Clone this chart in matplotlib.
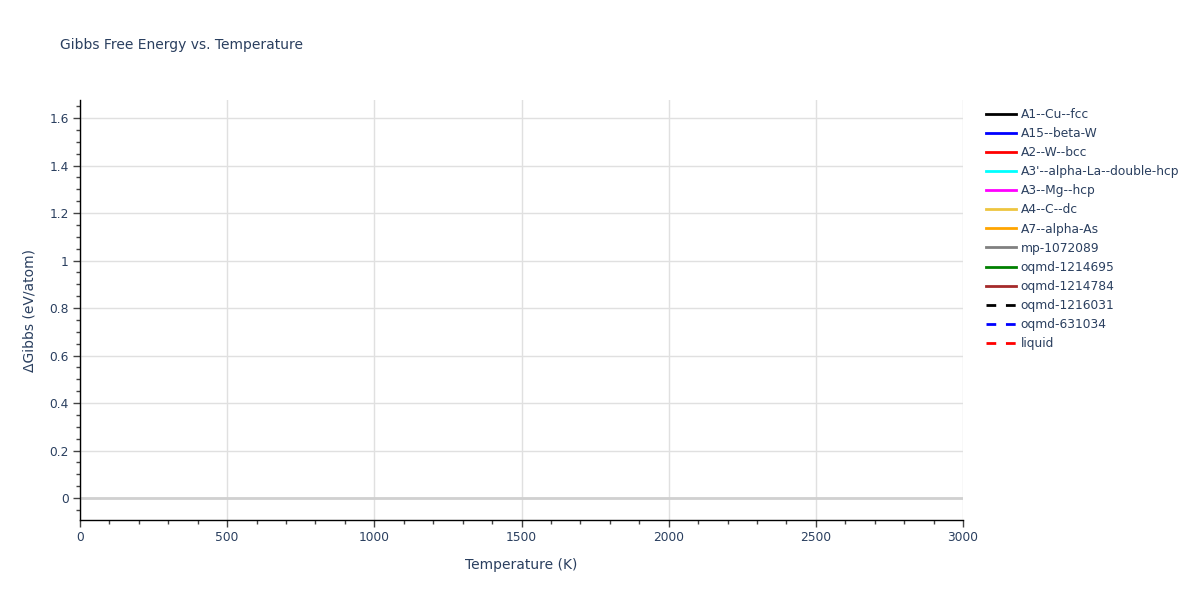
import matplotlib
matplotlib.use('Agg')
import matplotlib.pyplot as plt
from matplotlib.ticker import MultipleLocator

# phases in the legend; the reference shows no visible curves in range
phases = ['A1--Cu--fcc', 'A15--beta-W', 'A2--W--bcc', "A3'--alpha-La--double-hcp",
          'A3--Mg--hcp', 'A4--C--dc', 'A7--alpha-As', 'mp-1072089',
          'oqmd-1214695', 'oqmd-1214784', 'oqmd-1216031', 'oqmd-631034', 'liquid']
colors = ['black', 'blue', 'red', 'cyan', 'magenta', '#eec540', 'orange', 'grey',
          'green', 'brown', 'black', 'blue', 'red']
dashed = ['oqmd-1216031', 'oqmd-631034', 'liquid']

temps = {p: [] for p in phases}
gibbs = {p: [] for p in phases}

txt = '#2a3f5f'
plt.rcParams['font.family'] = ['DejaVu Sans']

fig = plt.figure(figsize=(12, 6), dpi=100)
ax = fig.add_axes([80/1200, 80/600, 883/1200, 420/600])

lines = []
for p, c in zip(phases, colors):
    ls = (0, (3.5, 3.5)) if p in dashed else '-'
    ln, = ax.plot(temps[p], gibbs[p], color=c, lw=2, ls=ls, label=p)
    lines.append(ln)

ax.set_xlim(0, 3000)
ax.set_ylim(-0.0926, 1.6758)
ax.xaxis.set_major_locator(MultipleLocator(500))
ax.xaxis.set_minor_locator(MultipleLocator(100))
ax.yaxis.set_major_locator(MultipleLocator(0.2))
ax.yaxis.set_minor_locator(MultipleLocator(0.05))
ax.yaxis.set_major_formatter(plt.FuncFormatter(lambda v, _: f'{v:g}'))

ax.grid(True, which='major', color='#e0e0e0', lw=1)
ax.axhline(0, color='#d0d0d0', lw=2, zorder=1)
ax.set_axisbelow(True)

for s in ['top', 'right']:
    ax.spines[s].set_visible(False)
for s in ['left', 'bottom']:
    ax.spines[s].set_color('black')
    ax.spines[s].set_linewidth(1)

ax.tick_params(which='major', direction='out', length=5, width=1, color='#444444',
               labelsize=8.8, labelcolor=txt, pad=3)
ax.tick_params(which='minor', direction='out', length=3, width=1, color='#444444')

ax.set_xlabel('Temperature (K)', fontsize=10, color=txt, labelpad=10)
ax.set_ylabel('ΔGibbs (eV/atom)', fontsize=10, color=txt, labelpad=9)
fig.text(60/1200, 1 - 45/600, 'Gibbs Free Energy vs. Temperature', fontsize=10,
         color=txt, va='center', ha='left')

leg = fig.legend(handles=lines, loc='upper left', bbox_to_anchor=(981/1200, 1 - 103/600),
                 frameon=False, fontsize=8.8, handlelength=2.45, handletextpad=0.4,
                 labelspacing=0.5, borderaxespad=0)
for t in leg.get_texts():
    t.set_color(txt)

fig.savefig('out.png', dpi=100)
